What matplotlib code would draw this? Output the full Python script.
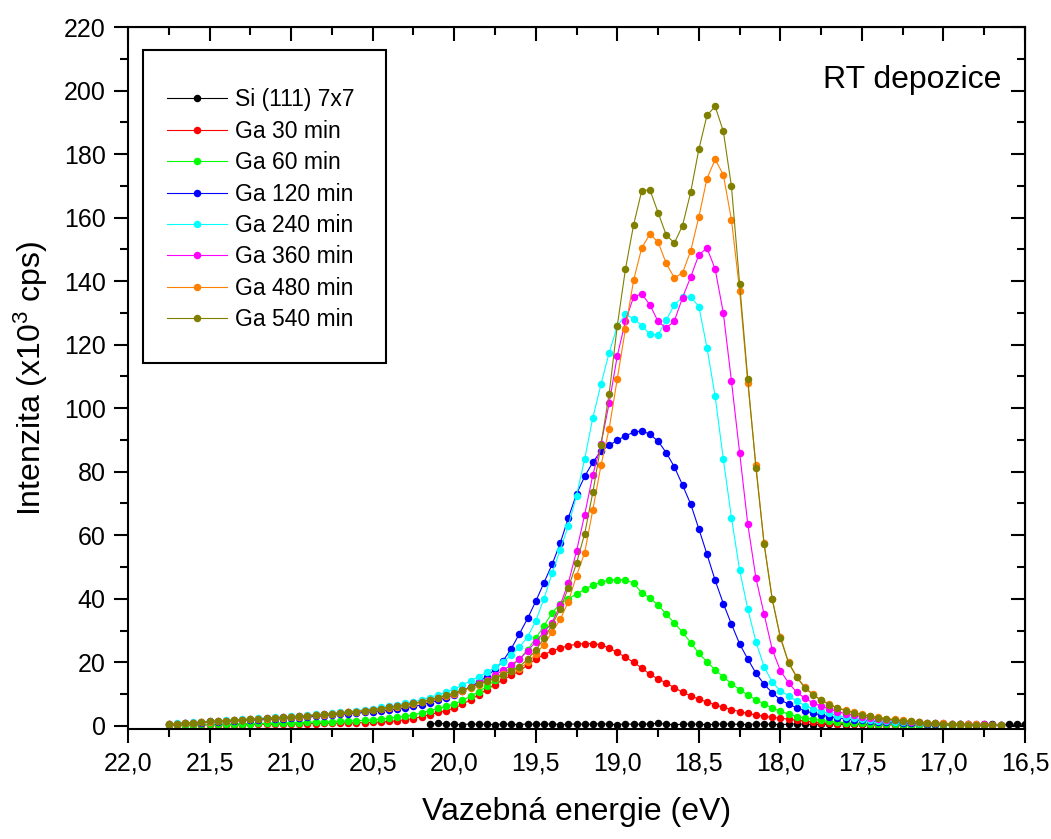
import numpy as np
import matplotlib.pyplot as plt
from matplotlib.ticker import MultipleLocator, FuncFormatter
from matplotlib.patches import Rectangle

plt.rcParams['font.family'] = ['Liberation Sans', 'DejaVu Sans']
plt.rcParams['mathtext.fontset'] = 'custom'
plt.rcParams['mathtext.rm'] = 'Liberation Sans'
plt.rcParams['mathtext.it'] = 'Liberation Sans:italic'

# binding energy grids (eV), 0.05 eV step
energy = np.round(np.arange(21.75, 16.64, -0.05), 2)      # 21.75 -> 16.65
energy_si = np.round(np.arange(20.15, 16.49, -0.05), 2)   # 20.15 -> 16.50

# intensities (x10^3 cps), rows of 10 points
si_7x7 = [0.5, 0.8, 0.6, 0.5, 0.4, 0.6, 0.5, 0.5, 0.4, 0.6,
          0.5, 0.4, 0.6, 0.5, 0.5, 0.6, 0.4, 0.5, 0.6, 0.5,
          0.5, 0.7, 0.5, 0.4, 0.6, 0.5, 0.5, 0.6, 0.8, 0.5,
          0.4, 0.5, 0.6, 0.5, 0.4, 0.5, 0.6, 0.5, 0.5, 0.4,
          0.6, 0.5, 0.5, 0.4, 0.5, 0.6, 0.5, 0.4, 0.5, 0.5,
          0.6, 0.4, 0.5, 0.5, 0.4, 0.5, 0.5, 0.6, 0.4, 0.5,
          0.5, 0.4, 0.5, 0.5, 0.4, 0.5, 0.5, 0.4, 0.5, 0.5,
          0.4, 0.5, 0.5, 0.6]

ga_30 = [0.2, 0.2, 0.3, 0.3, 0.3, 0.3, 0.4, 0.4, 0.4, 0.4,
         0.5, 0.5, 0.5, 0.5, 0.6, 0.6, 0.6, 0.7, 0.7, 0.8,
         0.8, 0.9, 0.9, 1.0, 1.0, 1.1, 1.2, 1.4, 1.6, 1.9,
         2.3, 2.9, 3.5, 4.2, 4.8, 5.5, 6.8, 8.2, 9.8, 11.4,
         13.0, 14.5, 15.9, 17.2, 19.2, 21.0, 22.4, 23.6, 24.5, 25.2,
         25.7, 25.9, 25.9, 25.5, 24.5, 23.1, 21.6, 20.0, 18.2, 16.2,
         14.8, 13.5, 12.0, 10.6, 9.4, 8.4, 7.5, 6.6, 5.8, 5.1,
         4.5, 3.9, 3.4, 3.0, 2.7, 2.4, 2.1, 1.8, 1.5, 1.2,
         1.0, 0.8, 0.7, 0.6, 0.5, 0.5, 0.4, 0.4, 0.4, 0.3,
         0.3, 0.3, 0.3, 0.3, 0.2, 0.2, 0.2, 0.2, 0.2, 0.2,
         0.2, 0.2, 0.2]

ga_60 = [0.3, 0.3, 0.4, 0.4, 0.5, 0.5, 0.5, 0.6, 0.6, 0.7,
         0.7, 0.8, 0.8, 0.9, 0.9, 1.0, 1.0, 1.1, 1.2, 1.2,
         1.3, 1.4, 1.5, 1.6, 1.7, 1.9, 2.1, 2.4, 2.7, 3.0,
         3.5, 4.1, 4.8, 5.5, 6.1, 6.8, 8.0, 9.3, 10.8, 12.4,
         14.3, 16.4, 18.6, 21.0, 24.0, 27.5, 31.5, 35.5, 38.5, 40.0,
         41.5, 43.0, 44.3, 45.3, 45.8, 46.0, 45.9, 45.0, 41.8, 40.3,
         38.0, 35.2, 32.3, 29.5, 26.2, 22.8, 20.2, 17.6, 15.4, 13.3,
         11.4, 9.7, 8.2, 6.9, 5.6, 4.6, 3.7, 2.9, 2.4, 2.1,
         1.7, 1.4, 1.2, 1.0, 0.9, 0.8, 0.7, 0.6, 0.5, 0.5,
         0.4, 0.4, 0.4, 0.3, 0.3, 0.3, 0.3, 0.3, 0.2, 0.2,
         0.2, 0.2, 0.2]

ga_120 = [0.5, 0.6, 0.8, 0.9, 1.0, 1.2, 1.3, 1.4, 1.5, 1.7,
          1.8, 1.9, 2.0, 2.2, 2.3, 2.5, 2.6, 2.8, 3.0, 3.2,
          3.4, 3.6, 3.8, 4.0, 4.2, 4.4, 4.7, 5.0, 5.3, 5.7,
          6.1, 6.6, 7.3, 8.0, 8.9, 9.8, 11.0, 12.3, 13.8, 15.5,
          17.8, 20.5, 24.3, 29.0, 33.8, 39.2, 45.0, 50.8, 57.5, 65.5,
          73.0, 78.5, 83.0, 86.5, 88.3, 89.9, 91.3, 92.4, 92.9, 91.8,
          89.6, 86.0, 81.5, 75.8, 69.8, 62.0, 54.0, 45.8, 38.5, 32.0,
          25.8, 21.0, 16.6, 13.1, 10.4, 8.2, 6.8, 5.7, 4.7, 4.0,
          3.4, 2.9, 2.5, 2.2, 1.9, 1.7, 1.5, 1.3, 1.2, 1.1,
          1.0, 0.9, 0.8, 0.7, 0.7, 0.6, 0.6, 0.5, 0.5, 0.4,
          0.4, 0.4, 0.3]

ga_240 = [0.6, 0.8, 1.0, 1.1, 1.3, 1.5, 1.6, 1.8, 1.9, 2.1,
          2.2, 2.4, 2.5, 2.7, 2.9, 3.0, 3.2, 3.4, 3.6, 3.8,
          4.0, 4.3, 4.5, 4.8, 5.1, 5.4, 5.8, 6.2, 6.6, 7.1,
          7.6, 8.2, 8.9, 9.7, 10.6, 11.5, 12.8, 14.2, 15.5, 16.8,
          18.4, 20.2, 22.3, 24.8, 28.0, 33.0, 40.0, 48.0, 55.5, 63.0,
          72.5, 84.0, 97.0, 107.5, 117.5, 125.8, 129.5, 128.2, 126.0, 123.3,
          123.0, 127.8, 132.5, 135.0, 135.0, 132.0, 119.0, 103.7, 84.0, 65.5,
          49.0, 36.8, 26.5, 18.6, 13.8, 11.0, 9.5, 7.7, 6.4, 5.4,
          4.6, 3.9, 3.2, 2.8, 2.4, 2.1, 1.8, 1.6, 1.4, 1.3,
          1.2, 1.1, 1.0, 0.9, 0.8, 0.7, 0.6, 0.6, 0.5, 0.5,
          0.4, 0.4, 0.3]

ga_360 = [0.5, 0.7, 0.9, 1.0, 1.2, 1.4, 1.5, 1.6, 1.8, 1.9,
          2.1, 2.2, 2.4, 2.5, 2.7, 2.8, 3.0, 3.2, 3.4, 3.6,
          3.8, 4.0, 4.3, 4.5, 4.8, 5.1, 5.4, 5.8, 6.2, 6.6,
          7.1, 7.6, 8.2, 8.9, 9.5, 10.1, 11.2, 12.3, 13.4, 14.5,
          16.0, 17.5, 19.2, 21.0, 23.5, 26.5, 29.5, 32.5, 38.0, 45.0,
          55.0, 66.5, 79.0, 88.8, 101.5, 116.5, 127.5, 135.0, 136.0, 132.5,
          127.3, 125.2, 127.5, 134.8, 141.3, 148.3, 150.4, 143.8, 130.0, 108.5,
          86.0, 63.5, 46.5, 35.2, 24.0, 17.4, 13.5, 10.6, 8.7, 7.2,
          6.2, 5.3, 4.5, 3.8, 3.3, 2.9, 2.5, 2.2, 1.9, 1.7,
          1.5, 1.3, 1.2, 1.0, 0.9, 0.8, 0.7, 0.6, 0.6, 0.5,
          0.5, 0.4, 0.4]

ga_480 = [0.5, 0.6, 0.8, 1.0, 1.1, 1.3, 1.4, 1.6, 1.7, 1.9,
          2.0, 2.2, 2.3, 2.5, 2.6, 2.8, 2.9, 3.1, 3.3, 3.5,
          3.7, 3.9, 4.2, 4.4, 4.7, 5.0, 5.3, 5.7, 6.0, 6.5,
          6.9, 7.4, 8.0, 8.7, 9.3, 9.9, 11.0, 12.0, 13.0, 14.0,
          15.2, 16.4, 17.3, 18.0, 20.0, 22.6, 25.6, 29.5, 33.5, 39.1,
          47.3, 54.5, 68.0, 82.0, 93.5, 109.3, 125.0, 140.3, 150.5, 154.8,
          152.3, 145.6, 141.0, 142.6, 149.5, 160.2, 172.3, 178.3, 173.5, 159.3,
          137.0, 108.0, 82.0, 57.5, 40.0, 28.0, 20.0, 15.5, 12.1, 9.9,
          8.1, 6.8, 5.7, 4.9, 4.2, 3.6, 3.1, 2.7, 2.3, 2.0,
          1.7, 1.5, 1.2, 1.0, 0.9, 0.8, 0.7, 0.6, 0.5, 0.5,
          0.4, 0.4, 0.4]

ga_540 = [0.5, 0.7, 0.9, 1.0, 1.2, 1.4, 1.5, 1.6, 1.8, 1.9,
          2.1, 2.2, 2.4, 2.5, 2.7, 2.8, 3.0, 3.2, 3.4, 3.6,
          3.8, 4.0, 4.3, 4.5, 4.8, 5.1, 5.4, 5.8, 6.2, 6.6,
          7.1, 7.6, 8.2, 8.9, 9.6, 10.3, 11.2, 12.1, 13.1, 14.1,
          15.1, 16.1, 17.3, 18.6, 21.0, 23.8, 27.5, 31.8, 36.8, 43.5,
          51.2, 60.5, 73.5, 88.5, 104.5, 126.0, 143.8, 157.7, 168.5, 168.7,
          161.6, 154.5, 152.0, 157.5, 168.0, 181.5, 192.2, 195.0, 187.2, 169.8,
          139.2, 109.2, 81.3, 57.2, 39.8, 27.7, 19.8, 15.3, 12.0, 9.8,
          8.0, 6.7, 5.6, 4.8, 4.1, 3.5, 3.0, 2.6, 2.2, 1.9,
          1.6, 1.4, 1.1, 0.9, 0.8, 0.7, 0.6, 0.5, 0.4, 0.4,
          0.3, 0.3, 0.3]

labels = ['Si (111) 7x7', 'Ga 30 min', 'Ga 60 min', 'Ga 120 min',
          'Ga 240 min', 'Ga 360 min', 'Ga 480 min', 'Ga 540 min']
colors = ['#000000', '#ff0000', '#00ff00', '#0000ff',
          '#00ffff', '#ff00ff', '#ff8000', '#808000']
xs = [energy_si] + [energy] * 7
ys = [si_7x7, ga_30, ga_60, ga_120, ga_240, ga_360, ga_480, ga_540]

fig = plt.figure(figsize=(10.51, 8.39), dpi=100)
ax = fig.add_axes([0.1218, 0.1311, 0.8535, 0.8367])

for x, y, lab, c in zip(xs, ys, labels, colors):
    ax.plot(x, y, '-o', color=c, lw=0.8, ms=5.4, mew=0, label=lab)

ax.set_xlim(22.0, 16.5)
ax.set_ylim(-1, 220)
ax.xaxis.set_major_locator(MultipleLocator(0.5))
ax.xaxis.set_minor_locator(MultipleLocator(0.25))
ax.yaxis.set_major_locator(MultipleLocator(20))
ax.yaxis.set_minor_locator(MultipleLocator(10))
ax.xaxis.set_major_formatter(FuncFormatter(lambda v, p: f'{v:.1f}'.replace('.', ',')))

for s in ax.spines.values():
    s.set_linewidth(1.5)
ax.tick_params(which='both', direction='out', width=1.5, top=False, right=False, labelsize=18)
ax.tick_params(which='major', length=10, pad=6)
ax.tick_params(which='minor', length=6)

# inward ticks on the top and right frame
top = ax.secondary_xaxis('top')
top.xaxis.set_major_locator(MultipleLocator(0.5))
top.xaxis.set_minor_locator(MultipleLocator(0.25))
top.tick_params(which='both', direction='in', width=1.5, labeltop=False)
top.tick_params(which='major', length=10)
top.tick_params(which='minor', length=6)
right = ax.secondary_yaxis('right')
right.yaxis.set_major_locator(MultipleLocator(20))
right.yaxis.set_minor_locator(MultipleLocator(10))
right.tick_params(which='both', direction='in', width=1.5, labelright=False)
right.tick_params(which='major', length=10)
right.tick_params(which='minor', length=6)

ax.set_xlabel('Vazebná energie (eV)', fontsize=23, labelpad=16)
ax.set_ylabel('Intenzita (x10$^3$ cps)', fontsize=23, labelpad=10)

ax.add_patch(Rectangle((0.0167, 0.5214), 0.2709, 0.4459, transform=ax.transAxes,
                       fill=False, lw=1.5, ec='black', zorder=5))
ax.legend(loc='upper left', bbox_to_anchor=(0.0435, 0.913), frameon=False,
          fontsize=16.5, handlelength=2.6, handletextpad=0.35, labelspacing=0.37,
          numpoints=1, borderaxespad=0, borderpad=0)

ax.text(0.9732, 0.9245, 'RT depozice', transform=ax.transAxes,
        ha='right', va='center', fontsize=23)

fig.savefig('out.png', dpi=100)
